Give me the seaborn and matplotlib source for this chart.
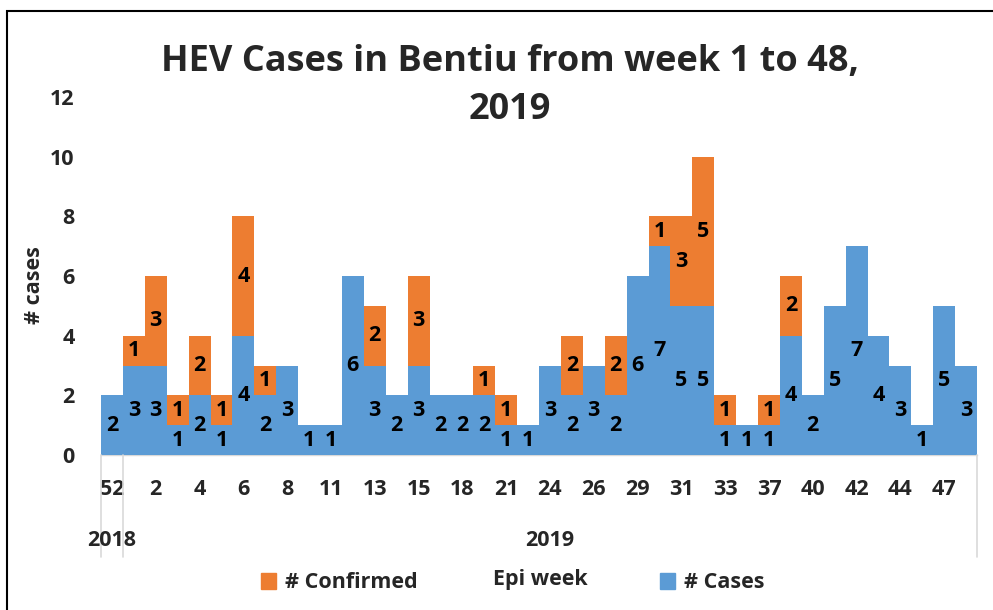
import numpy as np
import pandas as pd
import matplotlib
matplotlib.use("Agg")
import matplotlib.pyplot as plt
import matplotlib.transforms as mtransforms
from matplotlib.patches import Patch, Rectangle
import seaborn as sns

# ---------------- data ----------------
weeks = ["52", "1", "2", "3", "4", "5", "6", "7", "8", "10",
         "11", "12", "13", "14", "15", "17", "18", "20", "21", "23",
         "24", "25", "26", "28", "29", "30", "31", "32", "33", "35",
         "37", "38", "40", "41", "42", "43", "44", "46", "47", "48"]
years = ["2018"] + ["2019"] * 39
cases = [2, 3, 3, 1, 2, 1, 4, 2, 3, 1,
         1, 6, 3, 2, 3, 2, 2, 2, 1, 1,
         3, 2, 3, 2, 6, 7, 5, 5, 1, 1,
         1, 4, 2, 5, 7, 4, 3, 1, 5, 3]
confirmed = [0, 1, 3, 1, 2, 1, 4, 1, 0, 0,
             0, 0, 2, 0, 3, 0, 0, 1, 1, 0,
             0, 2, 0, 2, 0, 1, 3, 5, 1, 0,
             1, 2, 0, 0, 0, 0, 0, 0, 0, 0]
y_ticks = [0, 2, 4, 6, 8, 10, 12]

title = "HEV Cases in Bentiu from week 1 to 48,\n2019"
ylabel = "# cases"
xlabel = "Epi week"
series_names = ["# Confirmed", "# Cases"]

BLUE = "#5B9BD5"
ORANGE = "#ED7D31"
GRID = "#D9D9D9"
WT = "bold"
FS = 15.5

df = pd.DataFrame({"week": weeks, "year": years,
                   "cases": cases, "confirmed": confirmed})
df["total"] = df["cases"] + df["confirmed"]

sns.set_theme(style="white")
FONT = ["Open Sans", "DejaVu Sans"]
plt.rcParams["font.family"] = FONT
plt.rcParams["font.weight"] = WT

fig = plt.figure(figsize=(9.93, 6.10), dpi=100)
W, H = 993, 610
ax = fig.add_axes([101 / W, (H - 455) / H, (977 - 101) / W, (455 - 97) / H])

sns.barplot(data=df, x="week", y="total", order=weeks, color=ORANGE,
            saturation=1, width=1.0, errorbar=None, ax=ax, linewidth=0)
sns.barplot(data=df, x="week", y="cases", order=weeks, color=BLUE,
            saturation=1, width=1.0, errorbar=None, ax=ax, linewidth=0)

n = len(weeks)
ax.set_xlim(-0.5, n - 0.5)
ax.set_ylim(0, 12)
ax.set_yticks(y_ticks)
ax.set_yticklabels([str(t) for t in y_ticks], fontsize=FS, fontweight=WT)
ax.set_xticks(range(0, n, 2))
ax.set_xticklabels([weeks[i] for i in range(0, n, 2)], fontsize=FS,
                   fontweight=WT)
ax.tick_params(axis="y", length=0, pad=19)
ax.tick_params(axis="x", length=0, pad=17)
ax.set_xlabel("")
ax.set_ylabel("")
for s in ["left", "right", "top"]:
    ax.spines[s].set_visible(False)
ax.spines["bottom"].set_color(GRID)
ax.spines["bottom"].set_linewidth(1.0)
ax.spines["bottom"].set_zorder(0)

# data labels
for i in range(n):
    ax.text(i, cases[i] / 2, str(cases[i]), ha="center", va="center",
            fontsize=FS, fontweight=WT, color="black")
    if confirmed[i] > 0:
        ax.text(i, cases[i] + confirmed[i] / 2, str(confirmed[i]),
                ha="center", va="center", fontsize=FS, fontweight=WT,
                color="black")

# multi-level category axis: year groups
trans = mtransforms.blended_transform_factory(ax.transData, ax.transAxes)
y_low = (455 - 557) / (455 - 97)
y_year = (455 - 541) / (455 - 97)
groups = []
for yr in dict.fromkeys(years):
    idx = [i for i, y in enumerate(years) if y == yr]
    groups.append((yr, idx[0] - 0.5, idx[-1] + 0.5))
edges = sorted(set([g[1] for g in groups] + [g[2] for g in groups]))
for e in edges:
    ax.plot([e, e], [0, y_low], transform=trans, color=GRID, lw=1.2,
            clip_on=False)
for yr, a, b in groups:
    ax.text((a + b) / 2, y_year, yr, transform=trans, ha="center",
            va="center", fontsize=FS, fontweight=WT)

# title, axis labels
fig.text(510 / W, 1 - 86 / H, title, ha="center", va="center", fontsize=26,
         fontweight=WT, linespacing=1.45)
fig.text(35 / W, 1 - 285 / H, ylabel, ha="center", va="center", rotation=90,
         fontsize=FS, fontweight=WT)
fig.text(540 / W, 1 - 580 / H, xlabel, ha="center", va="center",
         fontsize=FS, fontweight=WT)

# legend (two entries on either side of the x label)
leg_kw = dict(loc="center left", frameon=False, borderpad=0, borderaxespad=0,
              handlelength=0.7, handleheight=0.7, handletextpad=0.4,
              prop={"size": FS, "weight": WT, "family": FONT})
l1 = fig.legend(handles=[Patch(color=ORANGE, label=series_names[0])],
                bbox_to_anchor=(261 / W, 1 - 583 / H), **leg_kw)
l2 = fig.legend(handles=[Patch(color=BLUE, label=series_names[1])],
                bbox_to_anchor=(660 / W, 1 - 583 / H), **leg_kw)

# outer border
fig.patches.append(Rectangle((6.5 / W, 0 - 0.05), 1.1, 1 - 10.5 / H + 0.05,
                             transform=fig.transFigure, fill=False,
                             edgecolor="black", lw=1.5, zorder=10))

fig.savefig("out.png", dpi=100)
